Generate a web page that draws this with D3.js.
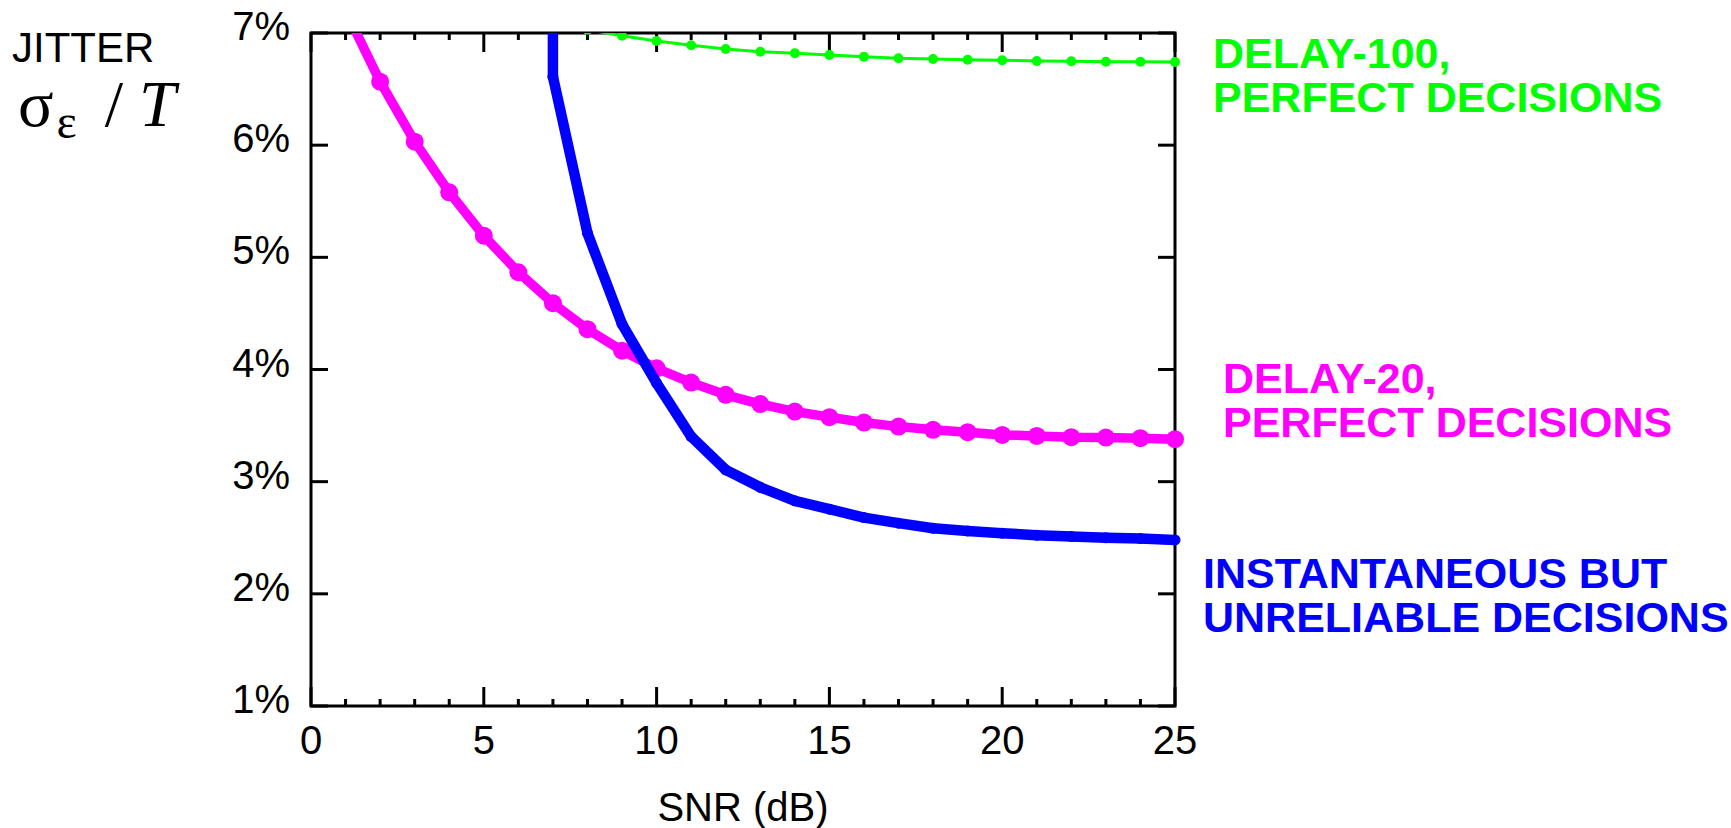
<!DOCTYPE html>
<html>
<head>
<meta charset="utf-8">
<script src="https://cdn.jsdelivr.net/npm/d3@7"></script>
<style>
  body { margin: 0; background: #fff; }
</style>
</head>
<body>
<div id="chart"></div>
<script>
// SNR in dB, jitter in percent of T
let snrGreen = [8, 9, 10, 11, 12, 13, 14, 15, 16, 17, 18, 19, 20, 21, 22, 23, 24, 25];
let jitterGreen = [7.03, 6.975, 6.929, 6.89, 6.857, 6.833, 6.819, 6.804, 6.789, 6.775, 6.768, 6.762, 6.757, 6.75, 6.748, 6.744, 6.744, 6.742];

let snrMagenta = [1, 2, 3, 4, 5, 6, 7, 8, 9, 10, 11, 12, 13, 14, 15, 16, 17, 18, 19, 20, 21, 22, 23, 24, 25];
let jitterMagenta = [7.2, 6.566, 6.031, 5.58, 5.193, 4.867, 4.591, 4.359, 4.168, 4.011, 3.883, 3.774, 3.692, 3.625, 3.575, 3.527, 3.491, 3.462, 3.441, 3.417, 3.408, 3.397, 3.393, 3.388, 3.379];

let snrBlue = [7, 7, 8, 9, 10, 11, 12, 13, 14, 15, 16, 17, 18, 19, 20, 21, 22, 23, 24, 25];
let jitterBlue = [8, 6.611, 5.215, 4.404, 3.878, 3.402, 3.105, 2.95, 2.829, 2.755, 2.68, 2.63, 2.585, 2.561, 2.541, 2.523, 2.511, 2.499, 2.493, 2.481];

let xTicks = [0, 5, 10, 15, 20, 25];
let yTicks = [1, 2, 3, 4, 5, 6, 7];

let labelGreen = ["DELAY-100,", "PERFECT DECISIONS"];
let labelMagenta = ["DELAY-20,", "PERFECT DECISIONS"];
let labelBlue = ["INSTANTANEOUS BUT", "UNRELIABLE DECISIONS"];

let W = 1731, H = 828;
let margin = {top: 33, right: 556, bottom: 122, left: 311},
    width = W - margin.left - margin.right,
    height = H - margin.top - margin.bottom;

let sans = "'Liberation Sans', Arial, sans-serif",
    serif = "'Liberation Serif', 'Times New Roman', serif";

let svg = d3.select("#chart").append("svg")
    .attr("width", W)
    .attr("height", H)
    .style("font-family", sans);

let x = d3.scaleLinear().domain([0, 25]).range([0, width]);
let y = d3.scaleLinear().domain([1, 7]).range([height, 0]);

let g = svg.append("g")
    .attr("transform", "translate(" + margin.left + "," + margin.top + ")");

svg.append("clipPath").attr("id", "clip")
  .append("rect")
    .attr("x", -12).attr("y", 0)
    .attr("width", width + 24).attr("height", height);

// ticks: minor every 1 dB, major every 5
let minor = d3.range(0, 26).filter(function(d) { return d % 5 != 0; });

function drawTicks(sel) {
  sel.selectAll(".xminB").data(minor).enter().append("line")
      .attr("x1", x).attr("x2", x)
      .attr("y1", height).attr("y2", height - 7);
  sel.selectAll(".xminT").data(minor).enter().append("line")
      .attr("x1", x).attr("x2", x)
      .attr("y1", 0).attr("y2", 7);
  sel.selectAll(".xmajB").data(xTicks).enter().append("line")
      .attr("x1", x).attr("x2", x)
      .attr("y1", height).attr("y2", height - 19);
  sel.selectAll(".xmajT").data(xTicks).enter().append("line")
      .attr("x1", x).attr("x2", x)
      .attr("y1", 0).attr("y2", 19);
  sel.selectAll(".yL").data(yTicks).enter().append("line")
      .attr("x1", 0).attr("x2", 17)
      .attr("y1", y).attr("y2", y);
  sel.selectAll(".yR").data(yTicks).enter().append("line")
      .attr("x1", width).attr("x2", width - 17)
      .attr("y1", y).attr("y2", y);
}

let ticks = g.append("g").attr("stroke", "#000").attr("stroke-width", 3);
drawTicks(ticks);

g.append("rect")
    .attr("width", width).attr("height", height)
    .attr("fill", "none").attr("stroke", "#000").attr("stroke-width", 3);

g.selectAll(".ylab").data(yTicks).enter().append("text")
    .attr("x", -21)
    .attr("y", function(d) { return y(d) + 7; })
    .attr("text-anchor", "end")
    .attr("font-size", 40)
    .text(function(d) { return d + "%"; });

g.selectAll(".xlab").data(xTicks).enter().append("text")
    .attr("x", x)
    .attr("y", height + 48)
    .attr("text-anchor", "middle")
    .attr("font-size", 40)
    .text(function(d) { return d; });

g.append("text")
    .attr("x", width / 2)
    .attr("y", height + 115)
    .attr("text-anchor", "middle")
    .attr("font-size", 40)
    .text("SNR (dB)");

// y axis title
svg.append("text")
    .attr("x", 12).attr("y", 62)
    .attr("font-size", 42)
    .text("JITTER");
let sym = svg.append("text")
    .attr("x", 18).attr("y", 126)
    .style("font-family", serif)
    .attr("font-size", 66);
sym.append("tspan").text("σ");
sym.append("tspan").attr("font-size", 48).attr("dy", 12).attr("dx", 3).text("ε");
sym.append("tspan").attr("dy", -12).attr("dx", 28).text("/");
sym.append("tspan").attr("dx", 16).attr("font-style", "italic").text("T");

let line = d3.line()
    .x(function(d) { return x(d.x); })
    .y(function(d) { return y(d.y); });

let plot = g.append("g").attr("clip-path", "url(#clip)");

function drawSeries(xs, ys, color, lw, r) {
  let pts = xs.map(function(v, i) { return {x: v, y: ys[i]}; });
  plot.append("path")
      .datum(pts)
      .attr("fill", "none")
      .attr("stroke", color)
      .attr("stroke-width", lw)
      .attr("stroke-linejoin", "round")
      .attr("d", line);
  plot.selectAll(null)
      .data(pts)
      .enter()
      .append("circle")
      .attr("r", r)
      .attr("cx", function(d) { return x(d.x); })
      .attr("cy", function(d) { return y(d.y); })
      .attr("fill", color);
}

drawSeries(snrGreen, jitterGreen, "#00ff00", 3, 5);
drawSeries(snrMagenta, jitterMagenta, "#ff00ff", 9.5, 9);
drawSeries(snrBlue, jitterBlue, "#0000ff", 10.5, 5.5);

function seriesLabel(lines, color, lx, ly) {
  let t = svg.append("text")
      .attr("font-size", 43)
      .attr("font-weight", "bold")
      .attr("fill", color);
  lines.forEach(function(s, i) {
    t.append("tspan").attr("x", lx).attr("y", ly + i * 44).text(s);
  });
}

seriesLabel(labelGreen, "#00ff00", 1213, 68);
seriesLabel(labelMagenta, "#ff00ff", 1223, 393);
seriesLabel(labelBlue, "#0000ff", 1203, 588);
</script>
</body>
</html>
